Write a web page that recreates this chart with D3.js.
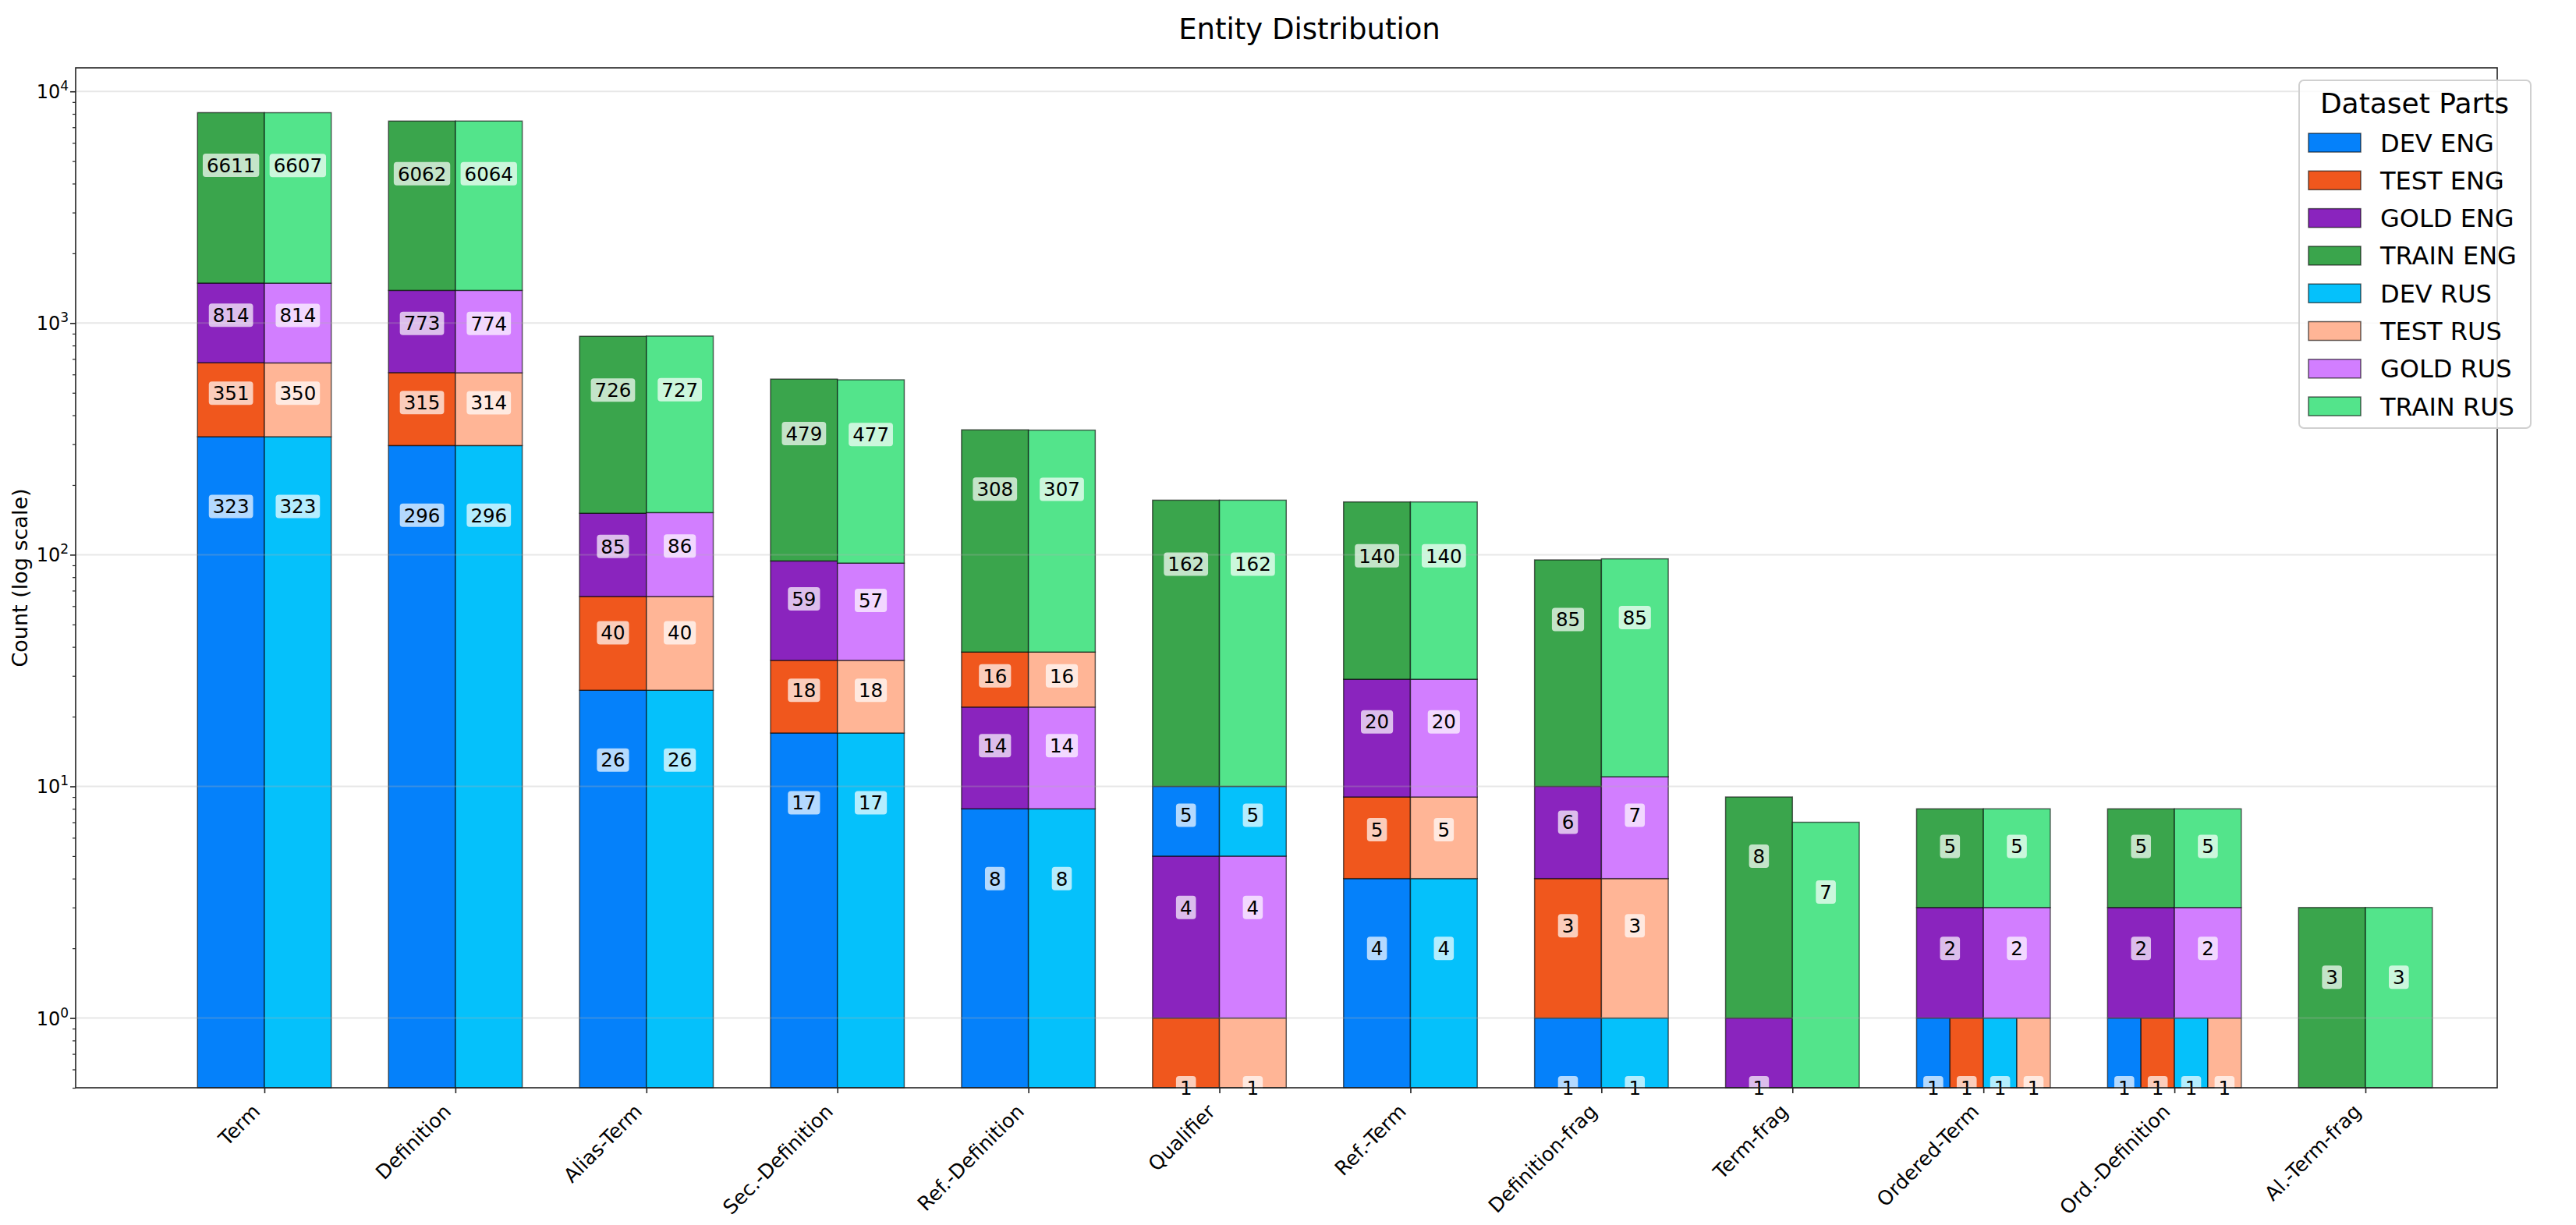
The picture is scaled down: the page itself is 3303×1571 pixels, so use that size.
<!DOCTYPE html>
<html>
<head>
<meta charset="utf-8">
<script src="https://cdn.jsdelivr.net/npm/d3@7"></script>
<style>
  body { margin: 0; background: #fff; }
  text { font-family: "DejaVu Sans", sans-serif; }
</style>
</head>
<body>
<div id="chart"></div>
<script>
var W = 3303, H = 1571;

// data
var categories = ["Term", "Definition", "Alias-Term", "Sec.-Definition", "Ref.-Definition", "Qualifier",
                  "Ref.-Term", "Definition-frag", "Term-frag", "Ordered-Term", "Ord.-Definition", "Al.-Term-frag"];
var devEng   = [323, 296, 26, 17, 8, 5, 4, 1, 0, 1, 1, 0];
var testEng  = [351, 315, 40, 18, 16, 1, 5, 3, 0, 1, 1, 0];
var goldEng  = [814, 773, 85, 59, 14, 4, 20, 6, 1, 2, 2, 0];
var trainEng = [6611, 6062, 726, 479, 308, 162, 140, 85, 8, 5, 5, 3];
var devRus   = [323, 296, 26, 17, 8, 5, 4, 1, 0, 1, 1, 0];
var testRus  = [350, 314, 40, 18, 16, 1, 5, 3, 0, 1, 1, 0];
var goldRus  = [814, 774, 86, 57, 14, 4, 20, 7, 0, 2, 2, 0];
var trainRus = [6607, 6064, 727, 477, 307, 162, 140, 85, 7, 5, 5, 3];
var legendLabels = ["DEV ENG", "TEST ENG", "GOLD ENG", "TRAIN ENG", "DEV RUS", "TEST RUS", "GOLD RUS", "TRAIN RUS"];
var yTicks = [1, 10, 100, 1000, 10000];

var colorsEng = ["#0581fa", "#f0571d", "#8a24be", "#3aa54c"];
var colorsRus = ["#05c1fb", "#ffb596", "#d27eff", "#53e48b"];

var pLeft = 97, pRight = 3202, pTop = 87, pBottom = 1395;

var svg = d3.select("#chart").append("svg")
            .attr("width", W)
            .attr("height", H);

var x = d3.scalePoint().domain(categories).range([339, 3033]);
var y = d3.scaleLog().domain([0.5, 12640]).range([pBottom, pTop]);
var barW = x.step() * 0.35;

// stack parts smallest first; equal values share one level side by side
function stackParts(vals, colors) {
  var items = vals.map(function(v, k) { return {k: k, v: v, color: colors[k]}; })
                  .filter(function(d) { return d.v > 0; });
  items.sort(function(a, b) { return a.v - b.v || a.k - b.k; });
  var out = [], cum = 0, i = 0;
  while (i < items.length) {
    var j = i;
    while (j < items.length && items[j].v === items[i].v) j++;
    for (var m = i; m < j; m++) {
      out.push({v: items[m].v, base: cum, color: items[m].color, sub: m - i, nsub: j - i});
    }
    cum += items[i].v;
    i = j;
  }
  return out;
}

var segs = [];
categories.forEach(function(c, ci) {
  stackParts([devEng[ci], testEng[ci], goldEng[ci], trainEng[ci]], colorsEng).forEach(function(s) {
    s.x0 = x(c) - barW; segs.push(s);
  });
  stackParts([devRus[ci], testRus[ci], goldRus[ci], trainRus[ci]], colorsRus).forEach(function(s) {
    s.x0 = x(c); segs.push(s);
  });
});
segs.forEach(function(s) {
  s.w = barW / s.nsub;
  s.xs = s.x0 + s.sub * s.w;
});

svg.append("g").selectAll("rect")
   .data(segs)
   .enter()
   .append("rect")
   .attr("x", function(d) { return d.xs; })
   .attr("y", function(d) { return y(d.base + d.v); })
   .attr("width", function(d) { return d.w; })
   .attr("height", function(d) { return y(Math.max(d.base, 0.5)) - y(d.base + d.v); })
   .attr("fill", function(d) { return d.color; })
   .attr("stroke", "#000")
   .attr("stroke-opacity", 0.6)
   .attr("stroke-width", 1.5);

// grid on top of the bars
svg.append("g").selectAll("line")
   .data(yTicks)
   .enter()
   .append("line")
   .attr("x1", pLeft).attr("x2", pRight)
   .attr("y1", function(d) { return y(d); })
   .attr("y2", function(d) { return y(d); })
   .attr("stroke", "#b0b0b0")
   .attr("stroke-opacity", 0.3)
   .attr("stroke-width", 2);

// value labels
var lab = svg.append("g").selectAll("g")
             .data(segs)
             .enter()
             .append("g")
             .attr("transform", function(d) {
               return "translate(" + (d.xs + d.w / 2) + "," + y(d.base + d.v / 2) + ")";
             });
lab.append("text")
   .text(function(d) { return d.v; })
   .attr("text-anchor", "middle")
   .attr("dy", "0.36em")
   .style("font-size", "24.5px")
   .attr("fill", "#000");
lab.each(function() {
  var g = d3.select(this);
  var bb = g.select("text").node().getBBox();
  g.insert("rect", "text")
   .attr("x", -bb.width / 2 - 5)
   .attr("y", -15)
   .attr("width", bb.width + 10)
   .attr("height", 30)
   .attr("rx", 4)
   .attr("fill", "#fff")
   .attr("fill-opacity", 0.7);
});

// spines
svg.append("rect")
   .attr("x", pLeft).attr("y", pTop)
   .attr("width", pRight - pLeft).attr("height", pBottom - pTop)
   .attr("fill", "none")
   .attr("stroke", "#222")
   .attr("stroke-width", 1.6);

// x axis
var xAxis = svg.append("g")
               .attr("transform", "translate(0," + pBottom + ")")
               .call(d3.axisBottom(x).tickSize(7).tickFormat(""));
xAxis.select(".domain").remove();
xAxis.selectAll("line").attr("stroke", "#222").attr("stroke-width", 1.6);

svg.append("g").selectAll("text")
   .data(categories)
   .enter()
   .append("text")
   .text(function(d) { return d; })
   .attr("text-anchor", "end")
   .attr("transform", function(d) {
     return "translate(" + (x(d) - 4) + "," + (pBottom + 32) + ") rotate(-45)";
   })
   .style("font-size", "25.5px")
   .attr("fill", "#000");

// y axis, major and minor ticks
var minor = [];
[-1, 0, 1, 2, 3, 4].forEach(function(e) {
  for (var k = 2; k <= 9; k++) {
    var v = k * Math.pow(10, e);
    if (v >= 0.5 && v <= 12640) minor.push(v);
  }
});
var yMinor = svg.append("g")
                .attr("transform", "translate(" + pLeft + ",0)")
                .call(d3.axisLeft(y).tickValues(minor).tickSize(4).tickFormat(""));
yMinor.select(".domain").remove();
yMinor.selectAll("line").attr("stroke", "#222").attr("stroke-width", 1.2);

var yAxis = svg.append("g")
               .attr("transform", "translate(" + pLeft + ",0)")
               .call(d3.axisLeft(y).tickValues(yTicks).tickSize(7).tickFormat(""));
yAxis.select(".domain").remove();
yAxis.selectAll("line").attr("stroke", "#222").attr("stroke-width", 1.6);

var yl = svg.append("g").selectAll("text")
            .data(yTicks)
            .enter()
            .append("text")
            .attr("x", 88)
            .attr("y", function(d) { return y(d) + 9; })
            .attr("text-anchor", "end")
            .style("font-size", "24px")
            .attr("fill", "#000");
yl.append("tspan").text("10");
yl.append("tspan")
  .text(function(d) { return Math.round(Math.log10(d)); })
  .attr("dy", -10)
  .style("font-size", "17px");

svg.append("text")
   .text("Count (log scale)")
   .attr("transform", "translate(25," + ((pTop + pBottom) / 2) + ") rotate(-90)")
   .attr("text-anchor", "middle")
   .attr("dy", "0.36em")
   .style("font-size", "27px");

// title
svg.append("text")
   .text("Entity Distribution")
   .attr("x", 1679)
   .attr("y", 50)
   .attr("text-anchor", "middle")
   .style("font-size", "37px");

// legend
var leg = svg.append("g");
leg.append("rect")
   .attr("x", 2948).attr("y", 103)
   .attr("width", 297).attr("height", 446)
   .attr("rx", 6)
   .attr("fill", "#fff").attr("fill-opacity", 0.8)
   .attr("stroke", "#d0d0d0").attr("stroke-width", 2);
leg.append("text")
   .text("Dataset Parts")
   .attr("x", 3096).attr("y", 145)
   .attr("text-anchor", "middle")
   .style("font-size", "36px");
var legendColors = colorsEng.concat(colorsRus);
var items = leg.selectAll("g.item")
               .data(legendLabels)
               .enter()
               .append("g")
               .attr("class", "item")
               .attr("transform", function(d, i) { return "translate(0," + (183 + i * 48.3) + ")"; });
items.append("rect")
     .attr("x", 2960).attr("y", -12)
     .attr("width", 67).attr("height", 24)
     .attr("fill", function(d, i) { return legendColors[i]; })
     .attr("stroke", "#000").attr("stroke-opacity", 0.6).attr("stroke-width", 1.5);
items.append("text")
     .text(function(d) { return d; })
     .attr("x", 3052)
     .attr("dy", "0.36em")
     .style("font-size", "32px");
</script>
</body>
</html>
